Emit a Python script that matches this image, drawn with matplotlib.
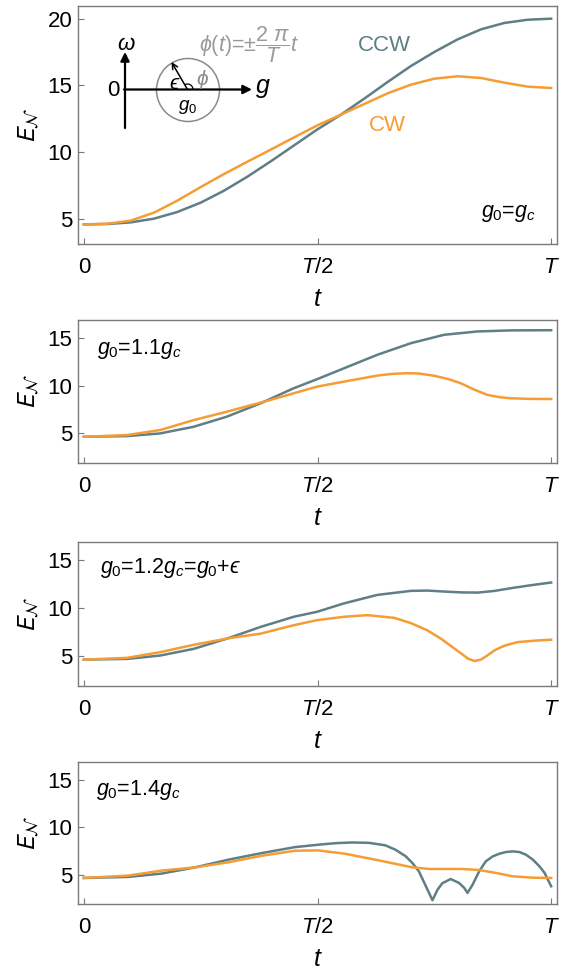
import matplotlib
matplotlib.use('Agg')
import matplotlib.pyplot as plt
from matplotlib.patches import Circle, Arc

plt.rcParams['font.family'] = ['Liberation Sans', 'DejaVu Sans']
plt.rcParams['mathtext.fontset'] = 'custom'
plt.rcParams['mathtext.rm'] = 'Liberation Sans'
plt.rcParams['mathtext.it'] = 'Liberation Sans:italic'
plt.rcParams['mathtext.bf'] = 'Liberation Sans:bold'
plt.rcParams['mathtext.sf'] = 'Liberation Sans'
plt.rcParams['mathtext.fallback'] = 'stix'

CCW_COLOR = '#5f7e86'
CW_COLOR = '#f59d35'
FRAME = '#7a7a7a'

# ---------------- data (t in units of T) ----------------
# panel 1: g0 = gc
p1_t = [0, 0.05, 0.1, 0.15, 0.2, 0.25, 0.3, 0.35, 0.4, 0.45, 0.5, 0.55, 0.6,
        0.65, 0.7, 0.75, 0.8, 0.85, 0.9, 0.95, 1.0]
p1_ccw = [4.57, 4.6, 4.72, 5.0, 5.5, 6.2, 7.1, 8.15, 9.3, 10.5, 11.7, 12.8, 14.0,
          15.25, 16.45, 17.5, 18.45, 19.2, 19.68, 19.92, 20.0]
p1_cw = [4.57, 4.62, 4.85, 5.45, 6.35, 7.37, 8.35, 9.27, 10.18, 11.1, 12.0, 12.8, 13.6,
         14.4, 15.05, 15.5, 15.68, 15.55, 15.2, 14.9, 14.8]

# panel 2: g0 = 1.1 gc
p2_ccw_t = [0, 0.092, 0.163, 0.235, 0.306, 0.378, 0.449, 0.499, 0.557, 0.628,
            0.70, 0.771, 0.843, 0.914, 1.0]
p2_ccw = [4.65, 4.72, 5.0, 5.70, 6.76, 8.16, 9.74, 10.69, 11.84, 13.25,
          14.47, 15.35, 15.7, 15.81, 15.83]
p2_cw_t = [0, 0.092, 0.163, 0.235, 0.306, 0.399, 0.449, 0.499, 0.557, 0.628,
           0.66, 0.692, 0.715, 0.75, 0.78, 0.807, 0.835, 0.864, 0.89, 0.914, 0.95, 1.0]
p2_cw = [4.65, 4.83, 5.35, 6.40, 7.28, 8.51, 9.21, 9.91, 10.44, 11.07,
         11.25, 11.32, 11.3, 11.05, 10.7, 10.26, 9.6, 9.04, 8.8, 8.69, 8.63, 8.61]

# panel 3: g0 = 1.2 gc
p3_ccw_t = [0, 0.092, 0.163, 0.235, 0.306, 0.378, 0.449, 0.499, 0.557, 0.628,
            0.70, 0.735, 0.771, 0.807, 0.843, 0.878, 0.914, 0.957, 1.0]
p3_ccw = [4.65, 4.72, 5.07, 5.77, 6.83, 8.05, 9.11, 9.63, 10.51, 11.39,
          11.81, 11.84, 11.74, 11.65, 11.63, 11.8, 12.09, 12.4, 12.68]
p3_cw_t = [0, 0.092, 0.163, 0.235, 0.313, 0.378, 0.449, 0.499, 0.557, 0.607,
           0.664, 0.70, 0.735, 0.765, 0.793, 0.81, 0.822, 0.836, 0.85, 0.864,
           0.88, 0.90, 0.928, 0.964, 1.0]
p3_cw = [4.65, 4.83, 5.42, 6.19, 6.90, 7.35, 8.23, 8.76, 9.11, 9.28,
         9.0, 8.45, 7.7, 6.8, 5.8, 5.2, 4.75, 4.5, 4.65, 5.1,
         5.65, 6.1, 6.47, 6.62, 6.72]

# panel 4: g0 = 1.4 gc
p4_ccw_t = [0, 0.0945, 0.166, 0.238, 0.309, 0.381, 0.452, 0.501, 0.54, 0.574,
            0.61, 0.645, 0.667, 0.689, 0.703, 0.717, 0.732, 0.746, 0.757, 0.767,
            0.785, 0.803, 0.814, 0.821, 0.832, 0.846, 0.860, 0.875, 0.889, 0.903,
            0.918, 0.932, 0.946, 0.961, 0.975, 0.986, 1.0]
p4_ccw = [4.65, 4.76, 5.11, 5.77, 6.58, 7.28, 7.91, 8.16, 8.33, 8.40,
          8.36, 8.1, 7.63, 6.93, 6.23, 5.35, 3.77, 2.30, 3.42, 4.09,
          4.54, 4.12, 3.60, 3.07, 3.95, 5.35, 6.40, 6.93, 7.21, 7.39,
          7.46, 7.39, 7.11, 6.58, 5.88, 5.18, 3.77]
p4_cw_t = [0, 0.0945, 0.166, 0.238, 0.309, 0.381, 0.452, 0.501, 0.559, 0.631,
           0.703, 0.739, 0.810, 0.846, 0.882, 0.918, 0.961, 1.0]
p4_cw = [4.65, 4.9, 5.42, 5.77, 6.3, 7.0, 7.53, 7.56, 7.21, 6.51,
         5.77, 5.6, 5.6, 5.49, 5.18, 4.82, 4.68, 4.65]

t_ticks = [0, 0.5, 1]
t_ticklabels = ['0', '$T$/2', '$T$']
panel_labels = ['$g_0$=$g_c$', '$g_0$=1.1$g_c$', '$g_0$=1.2$g_c$=$g_0$+$ϵ$',
                '$g_0$=1.4$g_c$']

W, H = 565, 971
fig = plt.figure(figsize=(W / 100, H / 100), dpi=100)

# pixel frames: (top, bottom)
frames = [(6, 244), (320, 463), (542, 686), (762, 904)]
left_px, right_px = 78, 557
ylims = [(3.1, 20.95), (1.9, 16.9), (1.9, 16.9), (1.9, 16.9)]
yticks = [[5, 10, 15, 20], [5, 10, 15], [5, 10, 15], [5, 10, 15]]
series = [
    (p1_t, p1_ccw, p1_t, p1_cw),
    (p2_ccw_t, p2_ccw, p2_cw_t, p2_cw),
    (p3_ccw_t, p3_ccw, p3_cw_t, p3_cw),
    (p4_ccw_t, p4_ccw, p4_cw_t, p4_cw),
]
label_pos = [(0.955, 0.13, 'right'), (0.04, 0.80, 'left'), (0.045, 0.82, 'left'),
             (0.038, 0.80, 'left')]

axes = []
for i, (top, bot) in enumerate(frames):
    ax = fig.add_axes([left_px / W, (H - bot) / H, (right_px - left_px) / W, (bot - top) / H])
    tc, vc, tw, vw = series[i]
    ax.plot(tc, vc, color=CCW_COLOR, lw=1.8, solid_joinstyle='round', zorder=3)
    ax.plot(tw, vw, color=CW_COLOR, lw=1.8, solid_joinstyle='round', zorder=4)
    ax.set_xlim(-0.0125, 1.0125)
    ax.set_ylim(*ylims[i])
    ax.set_xticks(t_ticks)
    ax.set_xticklabels(t_ticklabels)
    ax.set_yticks(yticks[i])
    ax.tick_params(direction='in', length=4, width=0.8, color=FRAME, labelsize=16,
                   labelcolor='black')
    ax.tick_params(axis='x', pad=9)
    ax.tick_params(axis='y', pad=4)
    for s in ax.spines.values():
        s.set_color(FRAME)
        s.set_linewidth(1.0)
    ax.set_xlabel('$t$', fontsize=18, labelpad=7)
    ax.set_ylabel(r'$E_{\mathcal{N}}$', fontsize=18, labelpad=5, math_fontfamily='stixsans')
    lx, ly, ha = label_pos[i]
    ax.text(lx, ly, panel_labels[i], transform=ax.transAxes, fontsize=15.5, ha=ha, va='center')
    axes.append(ax)

axes[0].text(0.64, 0.836, 'CCW', transform=axes[0].transAxes, color=CCW_COLOR,
             fontsize=16, ha='center', va='center')
axes[0].text(0.646, 0.496, 'CW', transform=axes[0].transAxes, color=CW_COLOR,
             fontsize=16, ha='center', va='center')

# ---------------- inset diagram in pixel coordinates ----------------
ov = fig.add_axes([0, 0, 1, 1], facecolor='none')
ov.set_xlim(0, W)
ov.set_ylim(0, H)
ov.axis('off')


def P(x, y):
    return (x, H - y)


ov.annotate('', xy=P(125, 52), xytext=P(125, 128),
            arrowprops=dict(arrowstyle='-|>', lw=1.6, color='black', mutation_scale=13,
                            shrinkA=0, shrinkB=0))
ov.annotate('', xy=P(252, 89.5), xytext=P(124, 89.5),
            arrowprops=dict(arrowstyle='-|>', lw=1.6, color='black', mutation_scale=13,
                            shrinkA=0, shrinkB=0))
ov.add_patch(Circle(P(188, 90), 31.5, fill=False, edgecolor='#8a8a8a', lw=1.1))
ov.annotate('', xy=P(171.5, 62), xytext=P(187.5, 89.5),
            arrowprops=dict(arrowstyle='->', lw=1.1, color='black', mutation_scale=10,
                            shrinkA=0, shrinkB=0))
ov.add_patch(Arc(P(187.5, 89.5), 11, 11, theta1=0, theta2=120, color='black', lw=0.9))
ov.text(*P(126, 44), r'$\omega$', fontsize=16, ha='center', va='center')
ov.text(*P(113, 90), '0', fontsize=16, ha='center', va='center')
ov.text(*P(263, 88), '$g$', fontsize=18, ha='center', va='center')
ov.text(*P(175, 83), '$ϵ$', fontsize=15, ha='center', va='center')
ov.text(*P(202, 79), r'$\phi$', fontsize=15, color='#8a8a8a', ha='center', va='center')
ov.text(*P(188, 107), '$g_0$', fontsize=13.5, ha='center', va='center')
ov.text(*P(199, 45), r'$\phi(t)$=±$\dfrac{2\ \pi}{T}t$', fontsize=15.5, color='#9a9a9a',
        ha='left', va='center')

fig.savefig('out.png', dpi=100)
